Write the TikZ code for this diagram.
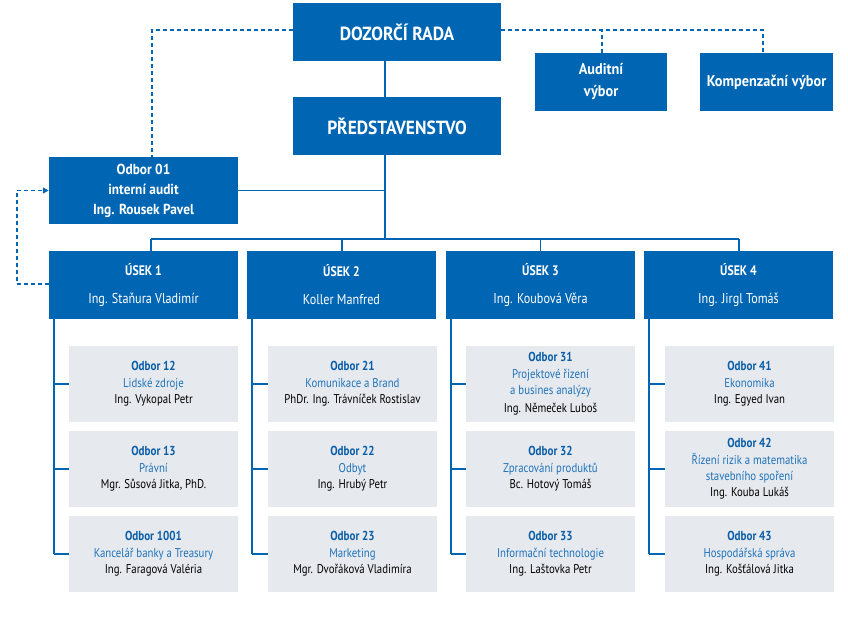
\documentclass[tikz,border=0pt]{standalone}
\usepackage{fontspec}
\setmainfont{PT Sans}[FakeStretch=0.85]
\newfontfamily\wfont{PT Sans}[FakeStretch=0.92]
\usetikzlibrary{arrows.meta,calc}
\definecolor{cblue}{HTML}{0066B3}
\definecolor{cgray}{HTML}{E6E9EE}
\definecolor{cdark}{HTML}{0A5EA8}
\definecolor{cmid}{HTML}{1F73BA}
\tikzset{
  bluebox/.style={fill=cblue, text=white, align=center, inner sep=0pt},
  usekbox/.style={fill=cblue, text=white, align=center, inner sep=0pt, minimum width=189pt, minimum height=68pt, font=\fontsize{14.3}{28}\selectfont},
  graybox/.style={fill=cgray, text=black, align=center, inner sep=0pt, minimum width=169pt, minimum height=76pt, font=\fontsize{12.7}{16.4}\selectfont},
  conn/.style={draw=cblue, line width=1.4pt},
  dconn/.style={draw=cblue, line width=1.4pt, dash pattern=on 4pt off 3pt},
}
\newcommand{\ot}[1]{{\fontsize{13}{16.4}\selectfont\bfseries\color{cdark}#1}}
\newcommand{\dn}[1]{{\color{cmid}#1}}
\newcommand{\uk}[1]{{\fontsize{13.8}{28}\selectfont\bfseries #1}}
\begin{document}
\begin{tikzpicture}[x=1pt,y=-1pt]
\useasboundingbox (0,0) rectangle (848,618);
% top boxes
\node[bluebox, minimum width=208pt, minimum height=58pt, font=\wfont\bfseries\fontsize{19}{24}\selectfont] (dr) at (397,32) {DOZORČÍ RADA};
\node[bluebox, minimum width=208pt, minimum height=58pt, font=\wfont\bfseries\fontsize{19}{24}\selectfont] (pr) at (397,126) {PŘEDSTAVENSTVO};
\node[bluebox, minimum width=132pt, minimum height=58pt, font=\wfont\bfseries\fontsize{15.5}{22}\selectfont] (au) at (601,82) {Auditní\\výbor};
\node[bluebox, minimum width=133pt, minimum height=58pt, font=\wfont\bfseries\fontsize{15.5}{22}\selectfont] (ko) at (766.5,82) {Kompenzační výbor};
\node[bluebox, minimum width=189pt, minimum height=67pt, font=\wfont\bfseries\fontsize{14.5}{20}\selectfont] (o1) at (143.5,190.5) {Odbor 01\\interní audit\\Ing. Rousek Pavel};
% usek boxes
\node[usekbox] (u1) at (143.5,285) {\uk{ÚSEK 1}\\Ing. Staňura Vladimír};
\node[usekbox] (u2) at (341.5,285) {\uk{ÚSEK 2}\\Koller Manfred};
\node[usekbox] (u3) at (540.5,285) {\uk{ÚSEK 3}\\Ing. Koubová Věra};
\node[usekbox] (u4) at (738.5,285) {\uk{ÚSEK 4}\\Ing. Jirgl Tomáš};
% gray boxes
\node[graybox] (g11) at (153.5,384) {\ot{Odbor 12}\\\dn{Lidské zdroje}\\Ing. Vykopal Petr};
\node[graybox] (g12) at (153.5,469) {\ot{Odbor 13}\\\dn{Právní}\\Mgr. Sůsová Jitka, PhD.};
\node[graybox] (g13) at (153.5,554) {\ot{Odbor 1001}\\\dn{Kancelář banky a Treasury}\\Ing. Faragová Valéria};
\node[graybox] (g21) at (352.5,384) {\ot{Odbor 21}\\\dn{Komunikace a Brand}\\PhDr. Ing. Trávníček Rostislav};
\node[graybox] (g22) at (352.5,469) {\ot{Odbor 22}\\\dn{Odbyt}\\Ing. Hrubý Petr};
\node[graybox] (g23) at (352.5,554) {\ot{Odbor 23}\\\dn{Marketing}\\Mgr. Dvořáková Vladimíra};
\node[graybox] (g31) at (550.5,384) {\ot{Odbor 31}\\\dn{Projektové řízení}\\\dn{a busines analýzy}\\[2pt]Ing. Němeček Luboš};
\node[graybox] (g32) at (550.5,469) {\ot{Odbor 32}\\\dn{Zpracování produktů}\\Bc. Hotový Tomáš};
\node[graybox] (g33) at (550.5,554) {\ot{Odbor 33}\\\dn{Informační technologie}\\Ing. Laštovka Petr};
\node[graybox] (g41) at (749.5,384) {\ot{Odbor 41}\\\dn{Ekonomika}\\Ing. Egyed Ivan};
\node[graybox] (g42) at (749.5,469) {\ot{Odbor 42}\\\dn{Řízení rizik a matematika}\\\dn{stavebního spoření}\\Ing. Kouba Lukáš};
\node[graybox] (g43) at (749.5,554) {\ot{Odbor 43}\\\dn{Hospodářská správa}\\Ing. Košťálová Jitka};
% coordinates
\coordinate (spine) at (385,239);
\coordinate (b1) at (151,239);
\coordinate (b2) at (342,239);
\coordinate (b3) at (540.5,239);
\coordinate (b4) at (739,239);
\coordinate (c1) at ($(u1.south west)+(5,0)$);
\coordinate (c2) at ($(u2.south west)+(5,0)$);
\coordinate (c3) at ($(u3.south west)+(5,0)$);
\coordinate (c4) at ($(u4.south west)+(5,0)$);
% solid connectors
\draw[conn] (dr.south -| spine) -- (pr.north -| spine);
\draw[conn] (pr.south -| spine) -- (spine);
\draw[conn] (o1.east) -- (o1.east -| spine);
\draw[conn] (b1) -- (b4);
\draw[conn] (b1) -- (b1 |- u1.north);
\draw[conn] (b2) -- (b2 |- u2.north);
\draw[conn] (b3) -- (b3 |- u3.north);
\draw[conn] (b4) -- (b4 |- u4.north);
\foreach \i in {1,2,3,4}{
  \draw[conn] (c\i) -- (c\i |- g\i3.west);
  \foreach \j in {1,2,3}{
    \draw[conn] (c\i |- g\i\j.west) -- (g\i\j.west);
  }
}
% dashed connectors
\draw[dconn] ($(dr.west)+(0,-2)$) -| ($(o1.north)+(8.5,0)$);
\draw[dconn] ($(dr.east)+(0,-2)$) -| ($(ko.north)+(-3.5,0)$);
\draw[dconn] ($(au.north)+(1,0)$) -- ($(au.north |- dr.east)+(1,-2)$);
\draw[dconn, -{Triangle[length=6pt,width=6pt]}] ($(u1.west)+(0,-1)$) -- ++(-32,0) |- (o1.west);
\end{tikzpicture}
\end{document}
